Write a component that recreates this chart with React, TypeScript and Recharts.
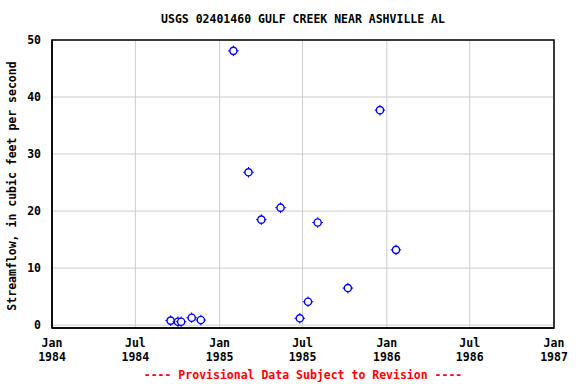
import React from 'react';
import { ScatterChart, Scatter, XAxis, YAxis, CartesianGrid, ReferenceArea } from 'recharts';

const sampleDates = ['1984-09-16','1984-10-02','1984-10-09','1984-11-01','1984-11-21','1985-01-31','1985-03-05','1985-04-02','1985-05-14','1985-06-25','1985-07-13','1985-08-03','1985-10-08','1985-12-17','1986-01-21'];
const flowValues = [0.8, 0.6, 0.6, 1.3, 0.9, 48.1, 26.8, 18.5, 20.6, 1.2, 4.1, 18.0, 6.5, 37.7, 13.2];
const xTickDates = ['1984-01-01','1984-07-01','1985-01-01','1985-07-01','1986-01-01','1986-07-01','1987-01-01'];
const xTickMonths = ['Jan','Jul','Jan','Jul','Jan','Jul','Jan'];
const xTickYears = ['1984','1984','1985','1985','1986','1986','1987'];
const yTicks = [0, 10, 20, 30, 40, 50];
const yDomain: [number, number] = [-0.5, 50];

const toTs = (s: string) => Date.parse(s + 'T00:00:00Z');
const data = sampleDates.map((d, i) => ({ t: toTs(d), v: flowValues[i] }));
const xTicks = xTickDates.map(toTs);
const FONT = '"DejaVu Sans Mono", monospace';

const XTick = (props: any) => {
  const { x, y, payload } = props;
  const i = xTicks.indexOf(payload.value);
  return (
    <text x={x} y={y} textAnchor="middle" fontFamily={FONT} fontWeight="bold" fontSize={11.5} fill="#000">
      <tspan x={x} dy={11}>{xTickMonths[i]}</tspan>
      <tspan x={x} dy={14}>{xTickYears[i]}</tspan>
    </text>
  );
};

const YTick = (props: any) => {
  const { y, payload } = props;
  return (
    <text x={41} y={y} dy={4} textAnchor="end" fontFamily={FONT} fontWeight="bold" fontSize={11.5} fill="#000">
      {payload.value}
    </text>
  );
};

const Marker = (props: any) => {
  const { cx, cy } = props;
  if (cx == null || cy == null) return null;
  return (
    <g stroke="#0000ff" fill="none">
      <circle cx={cx} cy={cy} r={3.6} fill="#fff" strokeWidth={1.4} />
      <line x1={cx} y1={cy - 5.3} x2={cx} y2={cy - 3.6} strokeWidth={1} />
      <line x1={cx} y1={cy + 3.6} x2={cx} y2={cy + 5.3} strokeWidth={1} />
      <line x1={cx - 5.3} y1={cy} x2={cx - 3.6} y2={cy} strokeWidth={1} />
      <line x1={cx + 3.6} y1={cy} x2={cx + 5.3} y2={cy} strokeWidth={1} />
    </g>
  );
};

export default function App() {
  const domainX: [number, number] = [xTicks[0], xTicks[xTicks.length - 1]];
  return (
    <div style={{ position: 'absolute', left: 0, top: 0, width: 576, height: 384, background: '#fff' }}>
      <div style={{ position: 'absolute', left: 0, width: 606, top: 12, textAlign: 'center', fontFamily: FONT, fontWeight: 'bold', fontSize: 11.5, lineHeight: '14px', color: '#000' }}>
        USGS 02401460 GULF CREEK NEAR ASHVILLE AL
      </div>
      <div style={{ position: 'absolute', left: 12, top: 186, width: 0, height: 0 }}>
        <div style={{ position: 'absolute', transform: 'translate(-50%, -50%) rotate(-90deg)', whiteSpace: 'nowrap', fontFamily: FONT, fontWeight: 'bold', fontSize: 11.5, lineHeight: '14px', color: '#000' }}>
          Streamflow, in cubic feet per second
        </div>
      </div>
      <div style={{ position: 'absolute', left: 0, width: 606, top: 368, textAlign: 'center', fontFamily: FONT, fontWeight: 'bold', fontSize: 11.5, lineHeight: '14px', color: '#ff0000', whiteSpace: 'pre' }}>
        ---- Provisional Data Subject to Revision ----
      </div>
      <ScatterChart width={576} height={384} margin={{ top: 40, right: 22, bottom: 16, left: 0 }}>
        <CartesianGrid stroke="#cccccc" strokeWidth={1} />
        <XAxis type="number" dataKey="t" domain={domainX} ticks={xTicks} tick={<XTick />} tickLine={false} axisLine={{ stroke: '#000', strokeWidth: 1.5 }} height={40} allowDataOverflow interval={0} />
        <YAxis type="number" dataKey="v" domain={yDomain} ticks={yTicks} tick={<YTick />} tickLine={false} axisLine={{ stroke: '#000', strokeWidth: 1.5 }} width={52} allowDataOverflow interval={0} />
        <ReferenceArea x1={domainX[0]} x2={domainX[1]} y1={yDomain[0]} y2={yDomain[1]} fill="none" stroke="#000" strokeWidth={1.5} ifOverflow="visible" />
        <Scatter data={data} shape={<Marker />} isAnimationActive={false} />
      </ScatterChart>
    </div>
  );
}
